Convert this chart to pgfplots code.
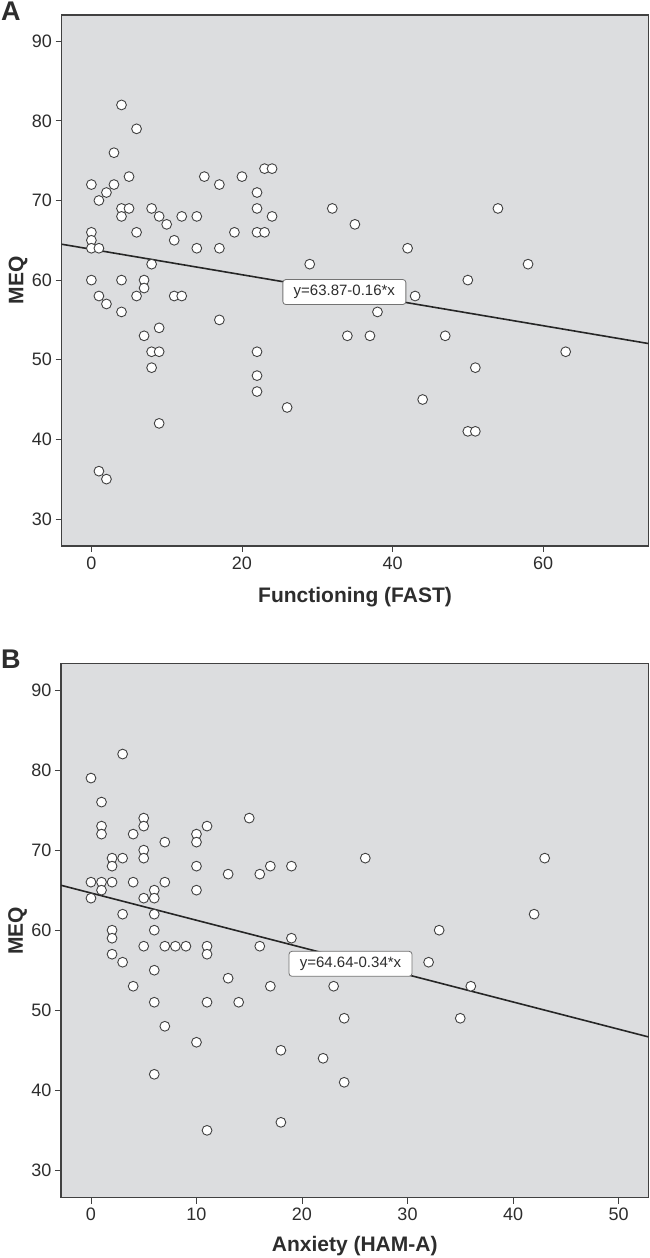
\documentclass[border=0pt]{standalone}
\usepackage{fontspec}
\setmainfont{Liberation Sans}
\usepackage{pgfplots}
\usepackage{pgfplotstable}
\pgfplotsset{compat=1.18}
\definecolor{bg}{RGB}{220,221,223}
\definecolor{fr}{RGB}{65,65,65}
\definecolor{tx}{RGB}{45,45,45}

\pgfplotstableread{
x y
0 72
0 66
0 65
0 64
0 60
1 70
1 64
1 58
1 36
2 71
2 57
2 35
3 76
3 72
4 82
4 69
4 68
4 60
4 56
5 73
5 69
6 79
6 66
6 58
7 60
7 59
7 53
8 69
8 62
8 51
8 49
9 68
9 54
9 51
9 42
10 67
11 65
11 58
12 68
12 58
14 68
14 64
15 73
17 72
17 64
17 55
19 66
20 73
22 71
22 69
22 66
22 51
22 48
22 46
23 74
23 66
24 74
24 68
26 44
29 62
32 69
34 53
35 67
37 53
38 56
42 64
43 58
44 45
47 53
50 60
50 41
51 49
51 41
54 69
58 62
63 51
}\dataA

\pgfplotstableread{
x y
0 79
0 66
0 64
1 76
1 73
1 72
1 66
1 65
2 69
2 68
2 66
2 60
2 59
2 57
3 82
3 69
3 62
3 56
4 72
4 66
4 53
5 74
5 73
5 70
5 69
5 64
5 58
6 65
6 64
6 62
6 60
6 55
6 51
6 42
7 71
7 66
7 58
7 48
8 58
9 58
10 72
10 71
10 68
10 65
10 46
11 73
11 58
11 57
11 51
11 35
13 67
13 54
14 51
15 74
16 67
16 58
17 68
17 53
18 45
18 36
19 68
19 59
22 44
23 53
24 49
24 41
26 69
32 56
33 60
35 49
36 53
42 62
43 69
}\dataB

\tikzset{
  mk/.style={only marks, mark=*, mark size=4.9pt, mark options={fill=white, draw=fr, line width=0.9pt}},
  fitl/.style={no marks, color=black!85, line width=1.6pt},
  eqbox/.style={draw=black!55, fill=white, rounded corners=3pt, line width=0.8pt, inner sep=0pt, minimum width=123pt, minimum height=25pt, font=\fontsize{15}{15}\selectfont, text=tx},
  plet/.style={anchor=north west, inner sep=0pt, font=\bfseries\fontsize{27}{27}\selectfont, text=tx},
}
\pgfplotsset{myax/.style={
  scale only axis,
  anchor=south west,
  axis background/.style={fill=bg},
  axis line style={fr, line width=1.1pt},
  tick style={fr, line width=0.8pt},
  tick align=outside,
  major tick length=6pt,
  xtick pos=bottom, ytick pos=left,
  ticklabel style={font=\fontsize{18}{18}\selectfont, text=tx},
  /pgf/number format/assume math mode=true,
  label style={font=\bfseries\fontsize{21}{21}\selectfont, text=tx},
  ymin=26.6, ymax=93.3,
  ytick={30,40,...,90},
  ylabel={MEQ},
  ylabel style={at={(axis description cs:-0.074,0.5)}, anchor=center},
  xticklabel style={yshift=-1pt},
}}

\begin{document}
\begin{tikzpicture}
\useasboundingbox (0pt,0pt) rectangle (650pt,1258pt);

\node[plet] at (1pt,1256pt) {A};
\begin{axis}[myax,
  at={(61.5pt,712pt)}, width=587pt, height=531pt,
  xmin=-3.97, xmax=74.0,
  xtick={0,20,40,60},
  xlabel={Functioning (FAST)},
  xlabel style={at={(axis description cs:0.5,-0.096)}, anchor=center},
]
\addplot[fitl] coordinates {(-3.97,64.51) (74.0,52.03)};
\addplot[mk] table[x=x,y=y] {\dataA};
\node[eqbox] at (axis cs:33.6,58.5) {y=63.87-0.16*x};
\end{axis}

\node[plet] at (1pt,608pt) {B};
\begin{axis}[myax,
  at={(61pt,60.4pt)}, width=587.5pt, height=534pt,
  xmin=-2.84, xmax=52.84,
  xtick={0,10,...,50},
  xlabel={Anxiety (HAM-A)},
  xlabel style={at={(axis description cs:0.5,-0.090)}, anchor=center},
]
\addplot[fitl] coordinates {(-2.84,65.61) (52.84,46.67)};
\addplot[mk] table[x=x,y=y] {\dataB};
\node[eqbox] at (axis cs:24.6,55.8) {y=64.64-0.34*x};
\end{axis}
\end{tikzpicture}
\end{document}
